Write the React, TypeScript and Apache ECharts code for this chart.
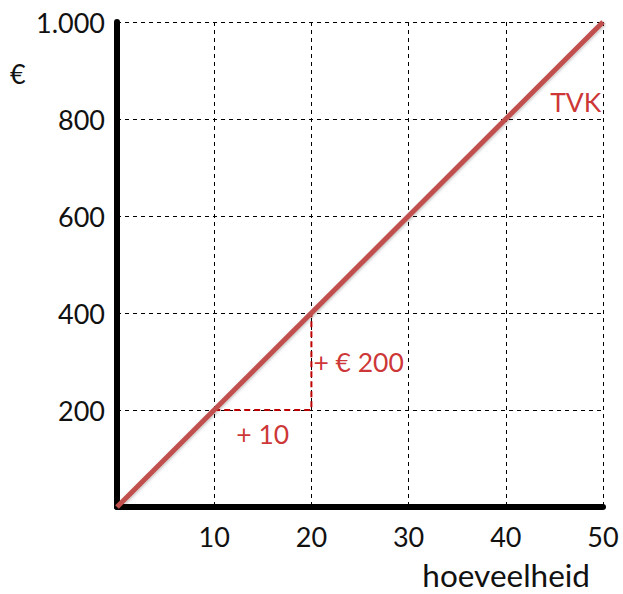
import React, { useEffect, useRef } from "react";
import * as echarts from "echarts";

const quantities = [0, 50];
const totalCosts = [0, 1000];
const stepPoints: [number, number][] = [[10, 200], [20, 200], [20, 400]];
const annotations: { value: [number, number]; text: string; pos: string }[] = [
  { value: [15, 150], text: "+ 10", pos: "inside" },
  { value: [20, 300], text: "+ € 200", pos: "right" },
  { value: [47.2, 835], text: "TVK", pos: "inside" },
];
const xTicks = [10, 20, 30, 40, 50];
const yTicks = [200, 400, 600, 800, 1000];

const FONT = "Lato";
const RED_TEXT = "#C00000";

export default function App() {
  const ref = useRef<HTMLDivElement>(null);
  useEffect(() => {
    const chart = echarts.init(ref.current!, undefined, { renderer: "svg" });
    chart.setOption({
      animation: false,
      backgroundColor: "#ffffff",
      grid: { left: 117, top: 22, right: 20, bottom: 87, containLabel: false },
      xAxis: {
        type: "value",
        min: 0,
        max: 50,
        interval: 10,
        axisLine: { show: true, lineStyle: { color: "#000", width: 6 } },
        axisTick: { show: false },
        axisLabel: {
          color: "#111",
          fontFamily: FONT,
          fontSize: 27,
          margin: 16,
          formatter: (v: number) => (xTicks.includes(v) ? String(v) : ""),
        },
        splitLine: { show: true, lineStyle: { color: "#000", type: [4, 4], width: 1 } },
      },
      yAxis: {
        type: "value",
        min: 0,
        max: 1000,
        interval: 200,
        axisLine: { show: true, lineStyle: { color: "#000", width: 6 } },
        axisTick: { show: false },
        axisLabel: {
          color: "#111",
          fontFamily: FONT,
          fontSize: 27,
          margin: 12,
          formatter: (v: number) =>
            yTicks.includes(v) ? (v >= 1000 ? `${Math.floor(v / 1000)}.${String(v % 1000).padStart(3, "0")}` : String(v)) : "",
        },
        splitLine: { show: true, lineStyle: { color: "#000", type: [4, 4], width: 1 } },
      },
      graphic: [
        { type: "text", left: 10, top: 60, style: { text: "€", fontFamily: FONT, fontSize: 27, fill: "#111" } },
        { type: "text", right: 33, top: 559, style: { text: "hoeveelheid", fontFamily: FONT, fontSize: 31.5, fill: "#111" } },
      ],
      series: [
        {
          type: "line",
          data: stepPoints,
          symbol: "none",
          lineStyle: { color: RED_TEXT, width: 2, type: [6, 4] },
          z: 3,
        },
        {
          type: "line",
          data: quantities.map((q, i) => [q, totalCosts[i]]),
          symbol: "none",
          lineStyle: { color: "#C0504D", width: 5, shadowColor: "rgba(0,0,0,0.25)", shadowBlur: 3, shadowOffsetX: 1, shadowOffsetY: 1 },
          z: 4,
        },
        {
          type: "scatter",
          symbolSize: 0,
          itemStyle: { color: RED_TEXT },
          data: annotations.map((a) => ({
            value: a.value,
            label: {
              show: true,
              formatter: a.text,
              position: a.pos,
              distance: 2,
              color: RED_TEXT,
              fontFamily: FONT,
              fontSize: 26.5,
            },
          })),
          z: 5,
        },
      ],
    });
    return () => chart.dispose();
  }, []);
  return <div ref={ref} style={{ position: "absolute", left: 0, top: 0, width: 623, height: 594 }} />;
}
